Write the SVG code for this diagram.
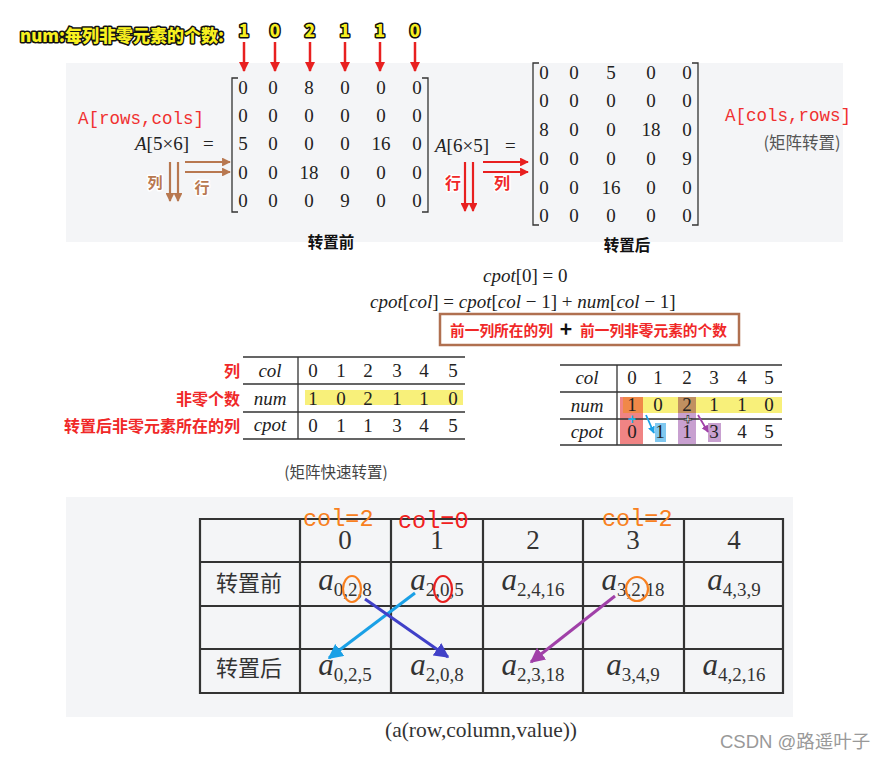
<svg xmlns="http://www.w3.org/2000/svg" width="889" height="760" viewBox="0 0 889 760">
<defs>
<style>
.m{font-family:"Liberation Serif","DejaVu Serif",serif;font-size:19px;fill:#222;text-anchor:middle}
.mi{font-family:"Liberation Serif","DejaVu Serif",serif;font-size:19px;fill:#222;font-style:italic}
.mono{font-family:"Liberation Mono","DejaVu Sans Mono",monospace;fill:#f03030}
.cjkb{font-family:"Noto Sans CJK SC","Noto Sans",sans-serif;font-weight:bold}
.cjk{font-family:"Noto Sans CJK SC","Noto Sans",sans-serif}
.yel{font-family:"Noto Sans CJK SC","Noto Sans",sans-serif;font-weight:900;fill:#f8f020;stroke:#111;stroke-width:3;paint-order:stroke;stroke-linejoin:round}
.redlab{font-family:"Noto Sans CJK SC","Noto Sans",sans-serif;font-weight:bold;fill:#f02828;stroke:#fff;stroke-width:3;paint-order:stroke;stroke-linejoin:round;font-size:16px}
.brlab{font-family:"Noto Sans CJK SC","Noto Sans",sans-serif;font-weight:bold;fill:#b87850;stroke:#fff;stroke-width:3;paint-order:stroke;stroke-linejoin:round;font-size:15px}
.grid{stroke:#333;stroke-width:2.2;fill:none}
.thin{stroke:#333;stroke-width:1.3;fill:none}
.big{font-family:"Liberation Serif","DejaVu Serif",serif;font-size:27px;fill:#333;text-anchor:middle}
.ai{font-size:31px}
.sub{font-size:19px;font-style:normal}
.col{font-family:"Liberation Mono","DejaVu Sans Mono",monospace;font-size:23.5px}
</style>
<marker id="ar" viewBox="0 0 10 10" refX="9" refY="5" markerWidth="4" markerHeight="4" orient="auto"><path d="M0,0L10,5L0,10z" fill="#e82020"/></marker>
<marker id="ab" viewBox="0 0 10 10" refX="9" refY="5" markerWidth="4" markerHeight="4" orient="auto"><path d="M0,0L10,5L0,10z" fill="#b87850"/></marker>
<marker id="alb" viewBox="0 0 10 10" refX="9" refY="5" markerWidth="5" markerHeight="5" orient="auto"><path d="M0,0L10,5L0,10z" fill="#1aa0e6"/></marker>
<marker id="adb" viewBox="0 0 10 10" refX="9" refY="5" markerWidth="5" markerHeight="5" orient="auto"><path d="M0,0L10,5L0,10z" fill="#4040c8"/></marker>
<marker id="ap" viewBox="0 0 10 10" refX="9" refY="5" markerWidth="5" markerHeight="5" orient="auto"><path d="M0,0L10,5L0,10z" fill="#a040a8"/></marker>
<marker id="abs" viewBox="0 0 10 10" refX="9" refY="5" markerWidth="4" markerHeight="4" orient="auto"><path d="M0,0L10,5L0,10z" fill="#1aa0e6"/></marker>
<marker id="aps" viewBox="0 0 10 10" refX="9" refY="5" markerWidth="4" markerHeight="4" orient="auto"><path d="M0,0L10,5L0,10z" fill="#a040a8"/></marker>
</defs>
<rect width="889" height="760" fill="#fff"/>
<!-- panels -->
<rect x="66" y="63" width="777" height="179" fill="#f4f5f7"/>
<rect x="66" y="497" width="727" height="220" fill="#f4f5f7"/>

<!-- top num label -->
<g id="numlabel">
<text x="20" y="42" class="yel" font-size="17">num:每列非零元素的个数:</text>
<g class="yel" font-size="17" text-anchor="middle">
<text x="244" y="37">1</text><text x="275" y="37">0</text><text x="310" y="37">2</text><text x="345" y="37">1</text><text x="380" y="37">1</text><text x="415" y="37">0</text>
</g>
</g>

<!-- Matrix A -->
<g id="matrixA">
<text x="78" y="124" class="mono" font-size="17.5">A[rows,cols]</text>
<text x="135" y="150" class="mi" font-size="20.5">A<tspan font-style="normal">[5×6]</tspan><tspan x="203" font-style="normal">=</tspan></text>
<path d="M238,78H232V212H238M422,78H428V212H422" class="thin"/>
<g class="m">
<text x="243" y="94">0</text><text x="273" y="94">0</text><text x="309" y="94">8</text><text x="345" y="94">0</text><text x="381" y="94">0</text><text x="417" y="94">0</text>
<text x="243" y="122">0</text><text x="273" y="122">0</text><text x="309" y="122">0</text><text x="345" y="122">0</text><text x="381" y="122">0</text><text x="417" y="122">0</text>
<text x="243" y="150">5</text><text x="273" y="150">0</text><text x="309" y="150">0</text><text x="345" y="150">0</text><text x="381" y="150">16</text><text x="417" y="150">0</text>
<text x="243" y="179">0</text><text x="273" y="179">0</text><text x="309" y="179">18</text><text x="345" y="179">0</text><text x="381" y="179">0</text><text x="417" y="179">0</text>
<text x="243" y="207">0</text><text x="273" y="207">0</text><text x="309" y="207">0</text><text x="345" y="207">9</text><text x="381" y="207">0</text><text x="417" y="207">0</text>
</g>
<text x="155" y="188" class="brlab" text-anchor="middle">列</text>
<text x="202" y="193" class="brlab" text-anchor="middle">行</text>
<text x="331" y="248" class="cjkb" font-size="15.5" text-anchor="middle" fill="#111">转置前</text>
</g>

<!-- Matrix B -->
<g id="matrixB">
<text x="435" y="152" class="mi" font-size="20.5">A<tspan font-style="normal">[6×5]</tspan><tspan x="505" font-style="normal">=</tspan></text>
<path d="M539,63H533V225H539M692,63H698V225H692" class="thin"/>
<g class="m">
<text x="544" y="79">0</text><text x="574" y="79">0</text><text x="611" y="79">5</text><text x="651" y="79">0</text><text x="687" y="79">0</text>
<text x="544" y="107">0</text><text x="574" y="107">0</text><text x="611" y="107">0</text><text x="651" y="107">0</text><text x="687" y="107">0</text>
<text x="544" y="136">8</text><text x="574" y="136">0</text><text x="611" y="136">0</text><text x="651" y="136">18</text><text x="687" y="136">0</text>
<text x="544" y="165">0</text><text x="574" y="165">0</text><text x="611" y="165">0</text><text x="651" y="165">0</text><text x="687" y="165">9</text>
<text x="544" y="194">0</text><text x="574" y="194">0</text><text x="611" y="194">16</text><text x="651" y="194">0</text><text x="687" y="194">0</text>
<text x="544" y="222">0</text><text x="574" y="222">0</text><text x="611" y="222">0</text><text x="651" y="222">0</text><text x="687" y="222">0</text>
</g>
<text x="453" y="189" class="redlab" text-anchor="middle">行</text>
<text x="502" y="189" class="redlab" text-anchor="middle">列</text>
<text x="627" y="251" class="cjkb" font-size="15.5" text-anchor="middle" fill="#111">转置后</text>
<text x="725" y="121" class="mono" font-size="17.5">A[cols,rows]</text>
<text x="802" y="149" class="cjk" font-size="16.5" fill="#555" text-anchor="middle">(矩阵转置)</text>
</g>

<!-- Formula -->
<g id="formula">
<text x="483" y="282" class="mi" font-size="18.5">cpot<tspan font-style="normal">[0] = 0</tspan></text>
<text x="370" y="308" class="mi" font-size="18.5">cpot<tspan font-style="normal">[</tspan>col<tspan font-style="normal">] = </tspan>cpot<tspan font-style="normal">[</tspan>col<tspan font-style="normal"> − 1] + </tspan>num<tspan font-style="normal">[</tspan>col<tspan font-style="normal"> − 1]</tspan></text>
<rect x="440" y="314" width="299" height="31" fill="#fff" stroke="#b07050" stroke-width="2.5"/>
<text x="450" y="336" class="cjkb" font-size="14.7" fill="#f02828">前一列所在的列</text>
<text x="566" y="337" class="cjkb" font-size="21" fill="#111" text-anchor="middle">+</text>
<text x="580" y="336" class="cjkb" font-size="14.7" fill="#f02828">前一列非零元素的个数</text>
</g>

<!-- Left table -->
<g id="tableLeft">
<rect x="305" y="390" width="158" height="15" fill="#f8f07a"/>
<path d="M243,357H465M243,384H465M243,412H465M243,439H465M298,357V439" class="thin"/>
<text x="270" y="377" class="mi" font-size="17" text-anchor="middle">col</text>
<text x="270" y="405" class="mi" font-size="17" text-anchor="middle">num</text>
<text x="270" y="431" class="mi" font-size="17" text-anchor="middle">cpot</text>
<g class="m" font-size="17">
<text x="313" y="377">0</text><text x="341" y="377">1</text><text x="368" y="377">2</text><text x="397" y="377">3</text><text x="424" y="377">4</text><text x="453" y="377">5</text>
<text x="313" y="405">1</text><text x="341" y="405">0</text><text x="368" y="405">2</text><text x="397" y="405">1</text><text x="424" y="405">1</text><text x="453" y="405">0</text>
<text x="313" y="432">0</text><text x="341" y="432">1</text><text x="368" y="432">1</text><text x="397" y="432">3</text><text x="424" y="432">4</text><text x="453" y="432">5</text>
</g>
<text x="240" y="377" class="redlab" text-anchor="end" font-size="17">列</text>
<text x="240" y="405" class="redlab" text-anchor="end" font-size="17">非零个数</text>
<text x="240" y="432" class="redlab" text-anchor="end" font-size="17">转置后非零元素所在的列</text>
<text x="336" y="478" class="cjk" font-size="15.5" fill="#444" text-anchor="middle">(矩阵快速转置)</text>
</g>

<!-- Right table -->
<g id="tableRight">
<rect x="620" y="397" width="162" height="16" fill="#f8f07a"/>
<rect x="620" y="397" width="23" height="47" fill="#f08484"/>
<rect x="623" y="397" width="20" height="16" fill="#f08848"/>
<rect x="678" y="397" width="18" height="47" fill="#c8a0d0"/>
<rect x="678" y="397" width="18" height="16" fill="#c09060"/>
<rect x="655" y="423" width="11" height="19" fill="#80c8f0"/>
<rect x="708" y="423" width="13" height="19" fill="#c8a0d0"/>
<path d="M560,365H782M560,392H782M560,419H782M560,445H782M617,365V445" class="thin"/>
<text x="587" y="384" class="mi" font-size="17" text-anchor="middle">col</text>
<text x="587" y="412" class="mi" font-size="17" text-anchor="middle">num</text>
<text x="587" y="438" class="mi" font-size="17" text-anchor="middle">cpot</text>
<g class="m" font-size="17">
<text x="632" y="384">0</text><text x="658" y="384">1</text><text x="687" y="384">2</text><text x="714" y="384">3</text><text x="742" y="384">4</text><text x="769" y="384">5</text>
<text x="632" y="411">1</text><text x="658" y="411">0</text><text x="687" y="411">2</text><text x="714" y="411">1</text><text x="742" y="411">1</text><text x="769" y="411">0</text>
<text x="632" y="438">0</text><text x="660" y="438">1</text><text x="687" y="438">1</text><text x="714" y="438">3</text><text x="742" y="438">4</text><text x="769" y="438">5</text>
</g>
<text x="632" y="424" font-family="Liberation Sans,sans-serif" font-weight="bold" font-size="14" fill="#20b0e8" text-anchor="middle">+</text>
<text x="688" y="424" font-family="Liberation Sans,sans-serif" font-weight="bold" font-size="15" fill="#fff" stroke="#333" stroke-width="0.8" text-anchor="middle">+</text>
</g>

<!-- Bottom table -->
<g id="tableBottom">
<path d="M200,519H783V693H200Z" class="grid"/>
<path d="M200,562H783M200,606H783M200,649H783M300,519V693M391,519V693M483,519V693M583,519V693M684,519V693" class="grid"/>
<g class="big">
<text x="345" y="549">0</text><text x="437" y="549">1</text><text x="533" y="549">2</text><text x="633" y="549">3</text><text x="734" y="549">4</text>
</g>
<text x="249" y="591" class="cjk" font-size="22" fill="#333" text-anchor="middle">转置前</text>
<text x="249" y="676" class="cjk" font-size="22" fill="#333" text-anchor="middle">转置后</text>
<g class="big" font-style="italic">
<text x="345" y="590"><tspan class="ai">a</tspan><tspan class="sub" dy="6">0,2,8</tspan></text>
<text x="437" y="590"><tspan class="ai">a</tspan><tspan class="sub" dy="6">2,0,5</tspan></text>
<text x="533" y="590"><tspan class="ai">a</tspan><tspan class="sub" dy="6">2,4,16</tspan></text>
<text x="633" y="590"><tspan class="ai">a</tspan><tspan class="sub" dy="6">3,2,18</tspan></text>
<text x="734" y="590"><tspan class="ai">a</tspan><tspan class="sub" dy="6">4,3,9</tspan></text>
<text x="345" y="675"><tspan class="ai">a</tspan><tspan class="sub" dy="6">0,2,5</tspan></text>
<text x="437" y="675"><tspan class="ai">a</tspan><tspan class="sub" dy="6">2,0,8</tspan></text>
<text x="533" y="675"><tspan class="ai">a</tspan><tspan class="sub" dy="6">2,3,18</tspan></text>
<text x="633" y="675"><tspan class="ai">a</tspan><tspan class="sub" dy="6">3,4,9</tspan></text>
<text x="734" y="675"><tspan class="ai">a</tspan><tspan class="sub" dy="6">4,2,16</tspan></text>
</g>
<text x="303" y="526" class="col" fill="#f88020">col=2</text>
<text x="398" y="528" class="col" fill="#f02020">col=0</text>
<text x="602" y="526" class="col" fill="#f88020">col=2</text>
<ellipse cx="352" cy="589" rx="9" ry="13" fill="none" stroke="#f88020" stroke-width="2.2"/>
<ellipse cx="443" cy="589" rx="9" ry="13" fill="none" stroke="#e82020" stroke-width="2.2"/>
<ellipse cx="637" cy="589" rx="11" ry="12" fill="none" stroke="#f88020" stroke-width="2.2"/>
</g>

<!-- connectors -->
<g id="connectors" fill="none">
<g stroke="#e82020" stroke-width="2.5" marker-end="url(#ar)">
<path d="M244,42V71"/><path d="M275,42V71"/><path d="M310,42V71"/><path d="M345,42V71"/><path d="M380,42V71"/><path d="M415,42V71"/>
</g>
<g stroke="#b87850" stroke-width="2.2" marker-end="url(#ab)">
<path d="M170,162V201"/><path d="M178,162V201"/><path d="M185,162H230"/><path d="M185,172H230"/>
</g>
<g stroke="#e82020" stroke-width="2.2" marker-end="url(#ar)">
<path d="M465,162V211"/><path d="M473,162V211"/><path d="M483,162H528"/><path d="M483,172H528"/>
</g>
<path d="M646,415L654,433" stroke="#1aa0e6" stroke-width="1.8" marker-end="url(#abs)"/>
<path d="M698,415L708,432" stroke="#a040a8" stroke-width="1.8" marker-end="url(#aps)"/>
<path d="M415,593L329,658" stroke="#1aa0e6" stroke-width="3" marker-end="url(#alb)"/>
<path d="M365,599L448,657" stroke="#4040c8" stroke-width="3" marker-end="url(#adb)"/>
<path d="M615,596L531,662" stroke="#a040a8" stroke-width="3" marker-end="url(#ap)"/>
</g>

<text x="481" y="737" font-family="Liberation Serif,serif" font-size="21.5" fill="#333" text-anchor="middle">(a(row,column,value))</text>
<text x="720" y="748" font-family="Liberation Sans,'Noto Sans CJK SC',sans-serif" font-size="18.5" fill="#999">CSDN @路遥叶子</text>
</svg>
